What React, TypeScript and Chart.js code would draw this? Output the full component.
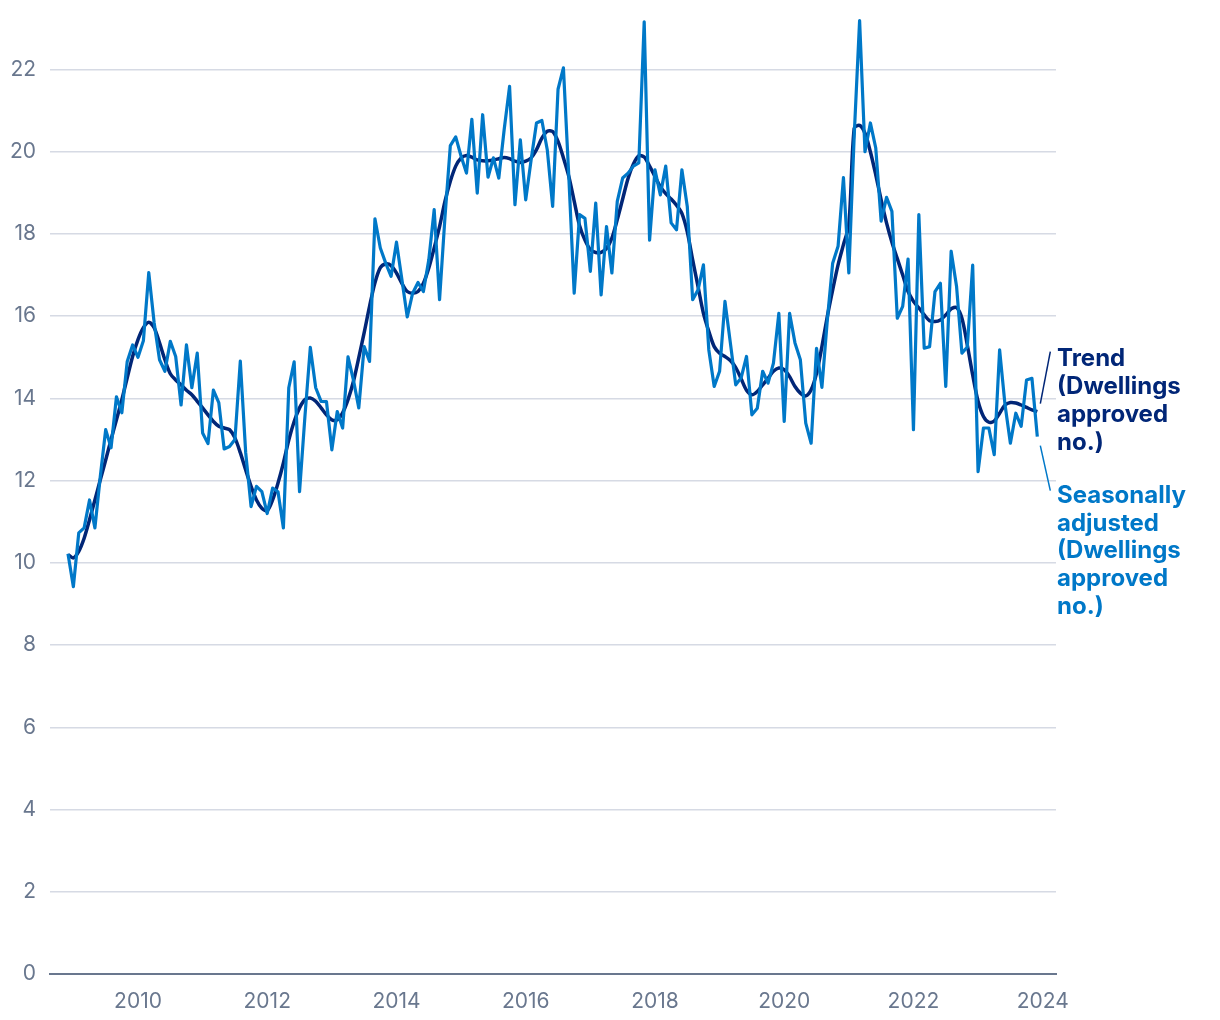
import React, { useEffect, useRef } from 'react';
import { Chart, registerables } from 'chart.js';

Chart.register(...registerables);

// Monthly series, first month = Dec 2008 (index 0)
const firstYear = 2008;
const firstMonth = 12;

const seasonallyAdjusted = [
  10.22, 9.42, 10.73, 10.85, 11.53, 10.85, 12.1, 13.24, 12.8, 14.04, 13.65, 14.9, 15.3,
  15.0, 15.4, 17.06, 15.84, 14.94, 14.66, 15.39, 15.02, 13.84, 15.3, 14.26, 15.1,
  13.16, 12.9, 14.2, 13.9, 12.77, 12.83, 13.0, 14.91, 12.68, 11.37, 11.86, 11.73,
  11.2, 11.82, 11.73, 10.85, 14.26, 14.89, 11.73, 13.56, 15.24, 14.26, 13.93, 13.92,
  12.75, 13.68, 13.28, 15.01, 14.45, 13.77, 15.26, 14.9, 18.37, 17.66, 17.29, 16.97,
  17.8, 16.9, 15.98, 16.56, 16.82, 16.6, 17.37, 18.59, 16.4, 18.4, 20.15, 20.36,
  19.89, 19.48, 20.79, 18.99, 20.9, 19.38, 19.85, 19.36, 20.54, 21.59, 18.71, 20.29,
  18.83, 19.8, 20.7, 20.76, 20.05, 18.67, 21.52, 22.04, 19.4, 16.56, 18.47, 18.38,
  17.09, 18.75, 16.52, 18.18, 17.05, 18.79, 19.36, 19.48, 19.65, 19.73, 23.16, 17.85,
  19.56, 18.95, 19.65, 18.27, 18.1, 19.56, 18.67, 16.4, 16.64, 17.25, 15.18, 14.29,
  14.66, 16.36, 15.35, 14.33, 14.5, 15.02, 13.6, 13.76, 14.66, 14.37, 14.86, 16.07,
  13.44, 16.07, 15.35, 14.94, 13.4, 12.91, 15.22, 14.27, 15.9, 17.29, 17.7, 19.37,
  17.05, 20.4, 23.19, 20.0, 20.7, 20.09, 18.31, 18.89, 18.55, 15.95, 16.24, 17.39,
  13.24, 18.47, 15.22, 15.26, 16.6, 16.8, 14.29, 17.58, 16.73, 15.1, 15.25, 17.24,
  12.22, 13.28, 13.28, 12.63, 15.18, 13.85, 12.91, 13.64, 13.32, 14.45, 14.49, 13.07,
];

const trend = [
  10.2, 10.12, 10.28, 10.6, 11.05, 11.53, 12.02, 12.5, 13.0, 13.48, 13.97, 14.5, 15.02,
  15.43, 15.72, 15.85, 15.72, 15.35, 14.94, 14.6, 14.45, 14.33, 14.2, 14.09, 13.93,
  13.77, 13.6, 13.44, 13.32, 13.28, 13.24, 13.04, 12.68, 12.26, 11.86, 11.53, 11.33,
  11.27, 11.53, 11.94, 12.43, 12.99, 13.44, 13.77, 13.97, 14.01, 13.93, 13.77, 13.6,
  13.48, 13.48, 13.65, 13.97, 14.41, 14.99, 15.6, 16.24, 16.81, 17.18, 17.27, 17.23,
  17.05, 16.8, 16.6, 16.56, 16.6, 16.8, 17.17, 17.66, 18.18, 18.79, 19.28, 19.65,
  19.85, 19.91, 19.87, 19.8, 19.78, 19.78, 19.8, 19.83, 19.86, 19.83, 19.77, 19.74,
  19.77, 19.85, 20.05, 20.33, 20.5, 20.49, 20.25, 19.85, 19.4, 18.8, 18.2, 17.85,
  17.62, 17.55, 17.55, 17.65, 17.9, 18.35, 18.85, 19.35, 19.7, 19.9, 19.87, 19.65,
  19.4, 19.15, 18.98, 18.85, 18.7, 18.5, 18.05, 17.37, 16.72, 16.07, 15.63, 15.26,
  15.1, 15.02, 14.92, 14.75, 14.48, 14.2, 14.09, 14.17, 14.33, 14.49, 14.66, 14.74,
  14.7, 14.53, 14.29, 14.13, 14.06, 14.21, 14.61, 15.26, 15.99, 16.64, 17.25, 17.74,
  18.22, 20.57, 20.64, 20.45, 20.0, 19.44, 18.83, 18.27, 17.8, 17.4, 17.0, 16.6,
  16.36, 16.2, 16.03, 15.89, 15.87, 15.91, 16.03, 16.18, 16.21, 15.95, 15.3, 14.57,
  13.93, 13.56, 13.42, 13.45, 13.64, 13.84, 13.9, 13.89, 13.84, 13.78, 13.72, 13.68,
];

const yTickValues = [0, 2, 4, 6, 8, 10, 12, 14, 16, 18, 20, 22];
const xTickYears = [2010, 2012, 2014, 2016, 2018, 2020, 2022, 2024];

const trendLabel = ['Trend', '(Dwellings', 'approved', 'no.)'];
const saLabel = ['Seasonally', 'adjusted', '(Dwellings', 'approved', 'no.)'];

const SA_COLOR = '#0078c8';
const TREND_COLOR = '#012677';
const GRID_COLOR = '#d6dae4';
const AXIS_COLOR = '#69778e';
const FONT = 'Inter, "Open Sans", sans-serif';

const janIndex = (year: number) => (year - firstYear) * 12 + (1 - firstMonth);

const endLabels = {
  id: 'endLabels',
  afterDatasetsDraw(chart: any) {
    const ctx = chart.ctx;
    const saMeta = chart.getDatasetMeta(0);
    const trMeta = chart.getDatasetMeta(1);
    const sp = saMeta.data[saMeta.data.length - 1];
    const tp = trMeta.data[trMeta.data.length - 1];
    const x0 = chart.chartArea.right + 1;
    ctx.save();
    ctx.font = `700 24px ${FONT}`;
    ctx.textAlign = 'left';
    ctx.textBaseline = 'middle';
    ctx.lineWidth = 1.5;

    ctx.strokeStyle = TREND_COLOR;
    ctx.beginPath();
    ctx.moveTo(tp.x + 3, tp.y - 8);
    ctx.lineTo(tp.x + 13, tp.y - 60);
    ctx.stroke();
    ctx.fillStyle = TREND_COLOR;
    trendLabel.forEach((t, k) => ctx.fillText(t, x0, tp.y - 53 + k * 28));

    ctx.strokeStyle = SA_COLOR;
    ctx.beginPath();
    ctx.moveTo(sp.x + 3, sp.y + 9);
    ctx.lineTo(sp.x + 13, sp.y + 54);
    ctx.stroke();
    ctx.fillStyle = SA_COLOR;
    saLabel.forEach((t, k) => ctx.fillText(t, x0, sp.y + 59 + k * 27.8));
    ctx.restore();
  },
};

export default function App() {
  const ref = useRef<HTMLCanvasElement | null>(null);

  useEffect(() => {
    if (!ref.current) return;
    const chart = new Chart(ref.current, {
      type: 'line',
      data: {
        datasets: [
          {
            label: 'Seasonally adjusted (Dwellings approved no.)',
            data: seasonallyAdjusted.map((v, i) => ({ x: i, y: v })),
            borderColor: SA_COLOR,
            borderWidth: 3.2,
            pointRadius: 0,
            tension: 0,
            borderJoinStyle: 'round',
          },
          {
            label: 'Trend (Dwellings approved no.)',
            data: trend.map((v, i) => ({ x: i, y: v })),
            borderColor: TREND_COLOR,
            borderWidth: 3.5,
            pointRadius: 0,
            tension: 0.3,
            borderJoinStyle: 'round',
          },
        ],
      },
      options: {
        animation: false,
        responsive: false,
        maintainAspectRatio: false,
        layout: { padding: { top: 14, right: 164, left: 0, bottom: 0 } },
        plugins: { legend: { display: false }, tooltip: { enabled: false } },
        scales: {
          x: {
            type: 'linear',
            min: -3.34,
            max: 183.47,
            afterBuildTicks: (s: any) => {
              s.ticks = xTickYears.map((y) => ({ value: janIndex(y) }));
            },
            afterFit: (s: any) => {
              s.height = 46;
              s.paddingLeft = 0;
              s.paddingRight = 0;
            },
            ticks: {
              autoSkip: false,
              maxRotation: 0,
              padding: 15,
              color: AXIS_COLOR,
              font: { family: FONT, size: 21 },
              callback: (v: any) => String(firstYear + Math.round((Number(v) + firstMonth - 1) / 12)),
            },
            grid: { display: false, drawTicks: false },
            border: { display: true, color: AXIS_COLOR, width: 2 },
          },
          y: {
            min: 0,
            max: 23.35,
            afterBuildTicks: (s: any) => {
              s.ticks = yTickValues.map((v) => ({ value: v }));
            },
            afterFit: (s: any) => {
              s.width = 50;
              s.paddingTop = 0;
              s.paddingBottom = 0;
            },
            ticks: {
              padding: 14,
              color: AXIS_COLOR,
              font: { family: FONT, size: 21 },
            },
            grid: { color: GRID_COLOR, lineWidth: 1.5, drawTicks: false },
            border: { display: false },
          },
        },
      },
      plugins: [endLabels],
    });
    return () => chart.destroy();
  }, []);

  return (
    <div style={{ position: 'absolute', left: 0, top: 0, width: 1220, height: 1020, background: '#fff' }}>
      <canvas ref={ref} width={1220} height={1020} style={{ width: 1220, height: 1020 }} />
    </div>
  );
}
